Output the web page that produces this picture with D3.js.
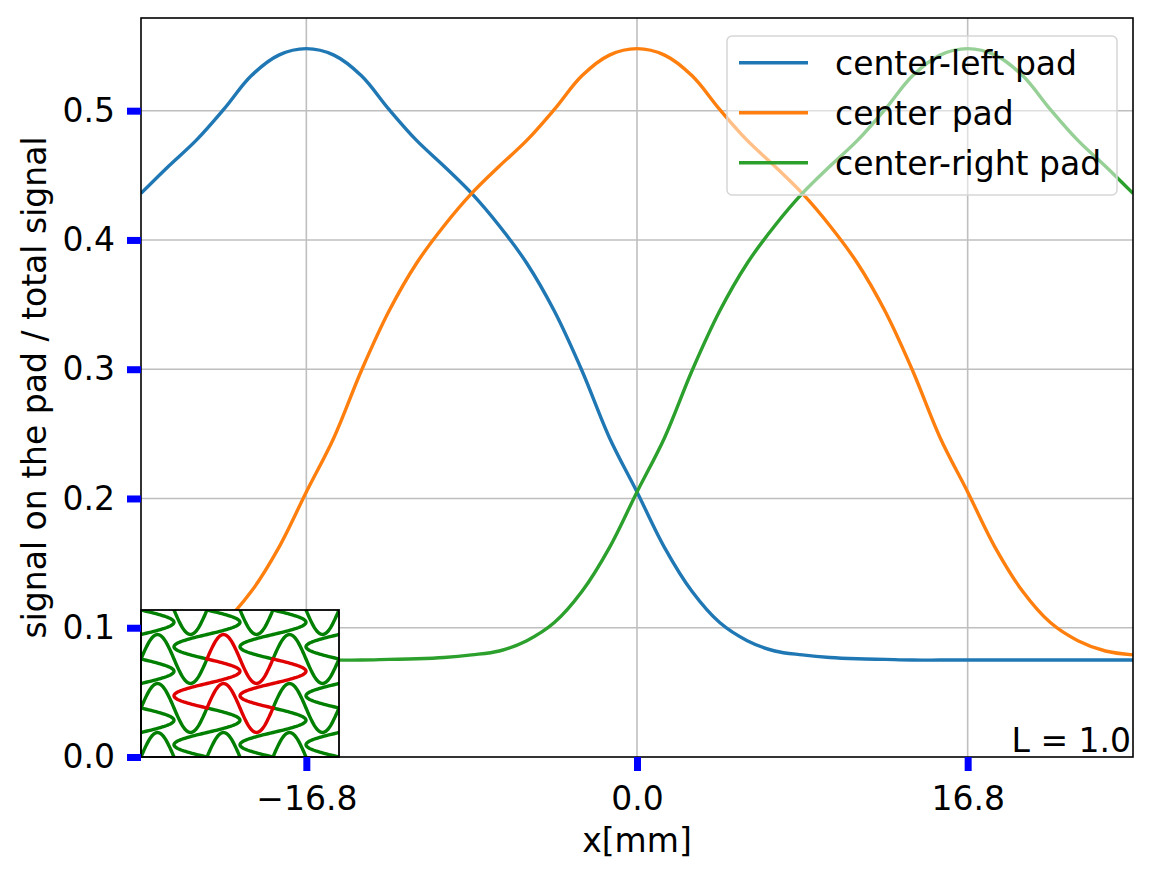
<!DOCTYPE html>
<html>
<head>
<meta charset="utf-8">
<script src="https://cdn.jsdelivr.net/npm/d3@7"></script>
<style>
  html, body { margin: 0; padding: 0; background: #fff; }
  svg { display: block; font-family: "DejaVu Sans", sans-serif; }
</style>
</head>
<body>
<svg id="chart" width="1153" height="879"></svg>
<script>
// beam position [mm] where the pad signals were read
const xMm = [-25.2, -23.8, -22.4, -21.0, -19.6, -18.2, -16.8, -15.4, -14.0, -12.6, -11.2, -9.8, -8.4,
  -7.0, -5.6, -4.2, -2.8, -1.4, 0, 1.4, 2.8, 4.2, 5.6, 7.0, 8.4, 9.8, 11.2, 12.6,
  14.0, 15.4, 16.8, 18.2, 19.6, 21.0, 22.4, 23.8, 25.2];

// signal fraction for each pad
const centerLeft = [0.436, 0.457, 0.477, 0.501, 0.527, 0.543, 0.548, 0.543, 0.527, 0.501, 0.477, 0.457, 0.436,
  0.411, 0.382, 0.345, 0.299, 0.247, 0.205, 0.162, 0.128, 0.104, 0.090, 0.082, 0.079, 0.077, 0.076, 0.0755,
  0.075, 0.075, 0.075, 0.075, 0.075, 0.075, 0.075, 0.075, 0.075];
const center = [0.079, 0.082, 0.090, 0.104, 0.128, 0.162, 0.205, 0.247, 0.299, 0.345, 0.382, 0.411, 0.436,
  0.457, 0.477, 0.501, 0.527, 0.543, 0.548, 0.543, 0.527, 0.501, 0.477, 0.457, 0.436, 0.411, 0.382, 0.345,
  0.299, 0.247, 0.205, 0.162, 0.128, 0.104, 0.090, 0.082, 0.079];
const centerRight = [0.075, 0.075, 0.075, 0.075, 0.075, 0.075, 0.075, 0.075, 0.075, 0.0755, 0.076, 0.077, 0.079,
  0.082, 0.090, 0.104, 0.128, 0.162, 0.205, 0.247, 0.299, 0.345, 0.382, 0.411, 0.436, 0.457, 0.477, 0.501,
  0.527, 0.543, 0.548, 0.543, 0.527, 0.501, 0.477, 0.457, 0.436];

const seriesNames = ["center-left pad", "center pad", "center-right pad"];
const seriesColors = ["#1f77b4", "#ff7f0e", "#2ca02c"];
const xTicks = [-16.8, 0, 16.8];
const yTicks = [0, 0.1, 0.2, 0.3, 0.4, 0.5];
const noteText = "L = 1.0";

// inset: 3x3 zigzag pads, middle one highlighted
const padCols = [0, 1, 2];
const padRows = [0, 1, 2];
const hotPad = [1, 1];

const svg = d3.select("#chart");
const W = 1153, H = 879;
const m = { left: 141, right: 1133, top: 18, bottom: 757 };
const FS = 33;

svg.append("rect").attr("width", W).attr("height", H).attr("fill", "#fff");

const x = d3.scaleLinear().domain([-25.2, 25.2]).range([m.left, m.right]);
const y = d3.scaleLinear().domain([0, 0.5717]).range([m.bottom, m.top]);

svg.append("defs").append("clipPath").attr("id", "plotclip")
  .append("rect").attr("x", m.left).attr("y", m.top)
  .attr("width", m.right - m.left).attr("height", m.bottom - m.top);

// grid
const grid = svg.append("g").attr("stroke", "#b0b0b0").attr("stroke-width", 1.6).attr("opacity", 0.8);
grid.selectAll("line.gx").data(xTicks).join("line")
  .attr("x1", d => x(d)).attr("x2", d => x(d)).attr("y1", m.top).attr("y2", m.bottom);
grid.selectAll("line.gy").data(yTicks.filter(d => d > 0)).join("line")
  .attr("x1", m.left).attr("x2", m.right).attr("y1", d => y(d)).attr("y2", d => y(d));

// curves
const series = [centerLeft, center, centerRight];
const line = d3.line().x((d, i) => x(xMm[i])).y(d => y(d)).curve(d3.curveCatmullRom.alpha(0.5));
svg.append("g").attr("clip-path", "url(#plotclip)")
  .selectAll("path").data(series).join("path")
  .attr("d", d => line(d))
  .attr("fill", "none")
  .attr("stroke", (d, i) => seriesColors[i])
  .attr("stroke-width", 3.4);

// inset with pad layout
const inset = { x0: 141, x1: 339, y0: 610, y1: 757 };
const ix = d3.scaleLinear().domain([0, 3]).range([inset.x0, inset.x1]);
const iy = d3.scaleLinear().domain([0, 3]).range([inset.y1, inset.y0]);
svg.select("defs").append("clipPath").attr("id", "insetclip")
  .append("rect").attr("x", inset.x0).attr("y", inset.y0)
  .attr("width", inset.x1 - inset.x0).attr("height", inset.y1 - inset.y0);

const AMP = 0.5;
const steps = d3.range(0, 81).map(k => k / 80);
const hEdge = (i, j) => steps.map(t => [i + t, j + AMP * Math.sin(2 * Math.PI * t)]);
const vEdge = (i, j) => steps.map(t => [i - AMP * Math.sin(2 * Math.PI * t), j + t]);
const padLine = d3.line().x(d => ix(d[0])).y(d => iy(d[1]));

const edges = [];
padCols.forEach(i => [0, 1, 2, 3].forEach(j => {
  const hot = i === hotPad[0] && (j === hotPad[1] || j === hotPad[1] + 1);
  edges.push({ pts: hEdge(i, j), hot });
}));
[0, 1, 2, 3].forEach(i => padRows.forEach(j => {
  const hot = j === hotPad[1] && (i === hotPad[0] || i === hotPad[0] + 1);
  edges.push({ pts: vEdge(i, j), hot });
}));
edges.sort((a, b) => a.hot - b.hot);

const ig = svg.append("g");
ig.append("rect").attr("x", inset.x0).attr("y", inset.y0)
  .attr("width", inset.x1 - inset.x0).attr("height", inset.y1 - inset.y0).attr("fill", "#fff");
ig.append("g").attr("clip-path", "url(#insetclip)")
  .selectAll("path").data(edges).join("path")
  .attr("d", d => padLine(d.pts))
  .attr("fill", "none")
  .attr("stroke", d => d.hot ? "#e00000" : "#007f00")
  .attr("stroke-width", 3.4)
  .attr("stroke-linecap", "round").attr("stroke-linejoin", "round");
ig.append("rect").attr("x", inset.x0).attr("y", inset.y0)
  .attr("width", inset.x1 - inset.x0).attr("height", inset.y1 - inset.y0)
  .attr("fill", "none").attr("stroke", "#000").attr("stroke-width", 1.8);

// legend (semi-transparent frame, curves show through)
const lg = svg.append("g").attr("transform", "translate(727,36)");
lg.append("rect").attr("width", 390).attr("height", 159).attr("rx", 5)
  .attr("fill", "#fff").attr("fill-opacity", 0.5)
  .attr("stroke", "#d6d6d6").attr("stroke-width", 1.5);
const items = lg.selectAll("g.item").data(seriesNames).join("g")
  .attr("transform", (d, i) => `translate(0,${26.7 + i * 50})`);
items.append("line").attr("x1", 12).attr("x2", 81)
  .attr("stroke", (d, i) => seriesColors[i]).attr("stroke-width", 3.4);
items.append("text").attr("x", 108).attr("y", 12)
  .attr("font-size", FS).attr("fill", "#000").text(d => d);

// annotation
svg.append("text").attr("x", 1131).attr("y", 752).attr("text-anchor", "end")
  .attr("font-size", FS).attr("fill", "#000").text(noteText);

// frame
svg.append("rect").attr("x", m.left).attr("y", m.top)
  .attr("width", m.right - m.left).attr("height", m.bottom - m.top)
  .attr("fill", "none").attr("stroke", "#000").attr("stroke-width", 1.6);

// axes
const fmt = d3.format(".1f");
const gx = svg.append("g").attr("transform", `translate(0,${m.bottom})`)
  .call(d3.axisBottom(x).tickValues(xTicks).tickFormat(fmt).tickSize(14).tickPadding(15.5));
const gy = svg.append("g").attr("transform", `translate(${m.left},0)`)
  .call(d3.axisLeft(y).tickValues(yTicks).tickFormat(fmt).tickSize(14).tickPadding(12));
[gx, gy].forEach(g => {
  g.select(".domain").remove();
  g.selectAll(".tick line").attr("stroke", "#0000ff").attr("stroke-width", 7);
  g.selectAll(".tick text").attr("font-size", FS).attr("fill", "#000")
    .attr("font-family", "DejaVu Sans, sans-serif");
});

// axis labels
svg.append("text").attr("x", (m.left + m.right) / 2).attr("y", 852)
  .attr("text-anchor", "middle").attr("font-size", FS).text("x[mm]");
svg.append("text").attr("transform", `translate(46,${(m.top + m.bottom) / 2}) rotate(-90)`)
  .attr("text-anchor", "middle").attr("font-size", FS).text("signal on the pad / total signal");
</script>
</body>
</html>
